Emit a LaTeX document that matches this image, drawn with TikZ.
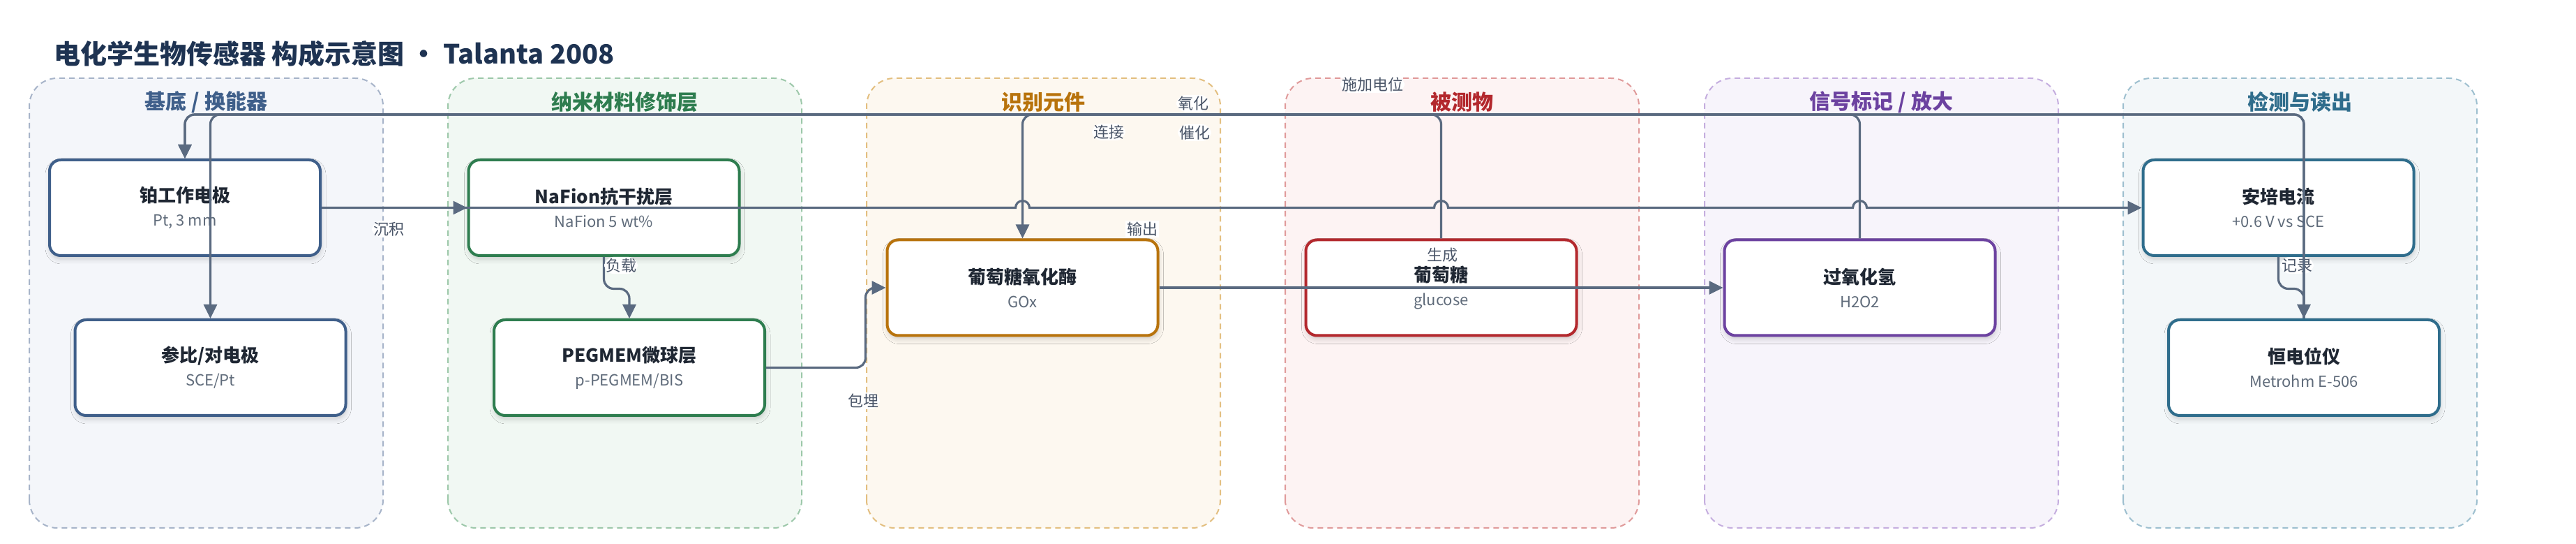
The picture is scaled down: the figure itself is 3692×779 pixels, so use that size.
\documentclass[tikz,border=0pt]{standalone}
\usepackage{fontspec}
\setmainfont{Noto Sans CJK SC}
\usetikzlibrary{arrows.meta,shadows.blur}
\definecolor{inkline}{HTML}{5A6A80}
\definecolor{inklabel}{HTML}{4A5568}
\definecolor{inktitle}{HTML}{1E3352}
\definecolor{inknode}{HTML}{1F2733}
\definecolor{inksub}{HTML}{5F6B7A}
\definecolor{subsC}{HTML}{3F5F8A}
\definecolor{subsF}{HTML}{F4F6FA}
\definecolor{subsB}{HTML}{A7B4C9}
\definecolor{nanoC}{HTML}{2E7D4F}
\definecolor{nanoF}{HTML}{F1F8F3}
\definecolor{nanoB}{HTML}{9DC8AA}
\definecolor{recoC}{HTML}{B8730C}
\definecolor{recoF}{HTML}{FDF8F0}
\definecolor{recoB}{HTML}{E3BF80}
\definecolor{anaC}{HTML}{B3282D}
\definecolor{anaF}{HTML}{FDF3F3}
\definecolor{anaB}{HTML}{E09A9A}
\definecolor{sigC}{HTML}{6C42A0}
\definecolor{sigF}{HTML}{F7F4FB}
\definecolor{sigB}{HTML}{C5AEDF}
\definecolor{detC}{HTML}{2F6D8C}
\definecolor{detF}{HTML}{F3F7F9}
\definecolor{detB}{HTML}{9DBFCF}
\newcommand{\parttext}[2]{{\fontsize{26}{34}\selectfont\bfseries #1}\\{\color{inksub}#2}}
\newcommand{\panelbox}[6]{
  \draw[panel, draw=#4, fill=#3] (#2,23) rectangle ++(507,644);
  \node[paneltitle, text=#5] (#1) at (#2+253.5,633) {#6};
}
\tikzset{
  panel/.style = {line width=2pt, dash pattern=on 8pt off 6pt, rounded corners=40pt},
  paneltitle/.style = {font=\fontsize{30}{36}\selectfont\bfseries, inner sep=2pt},
  part/.style = {rectangle, rounded corners=16pt, draw=#1, line width=4pt, fill=white,
                 minimum width=388pt, minimum height=137pt, inner sep=0pt,
                 align=center, text=inknode, font=\fontsize{22}{34}\selectfont,
                 blur shadow={shadow xshift=1pt, shadow yshift=-5pt,
                              shadow blur radius=7pt, shadow opacity=18}},
  link/.style = {draw=inkline, line width=3.2pt, rounded corners=14pt,
                 -{Triangle[length=20pt, width=19pt]}},
  lbl/.style = {fill=white, text=inklabel, inner sep=2pt,
                font=\fontsize{22}{26}\selectfont}
}

\begin{document}
\begin{tikzpicture}[x=1pt, y=1pt]
  \useasboundingbox (0,0) rectangle (3692,779);
  \fill[white] (0,0) rectangle (3692,779);
  \node[anchor=west, text=inktitle, font=\fontsize{38}{44}\selectfont\bfseries, inner sep=0pt]
    (title) at (77,702) {电化学生物传感器 构成示意图 · Talanta 2008};
  \panelbox{substrate}{42}{subsF}{subsB}{subsC}{基底 / 换能器}
  \panelbox{nano}{642}{nanoF}{nanoB}{nanoC}{纳米材料修饰层}
  \panelbox{recog}{1242}{recoF}{recoB}{recoC}{识别元件}
  \panelbox{analyte}{1842}{anaF}{anaB}{anaC}{被测物}
  \panelbox{signal}{2443}{sigF}{sigB}{sigC}{信号标记 / 放大}
  \panelbox{readout}{3043}{detF}{detB}{detC}{检测与读出}
  \node[part=subsC] (pt) at (265,481.5) {\parttext{铂工作电极}{Pt, 3 mm}};
  \node[part=subsC] (ref) at (301.5,252.5) {\parttext{参比/对电极}{SCE/Pt}};
  \node[part=nanoC] (nafion) at (865.5,481.5) {\parttext{NaFion抗干扰层}{NaFion 5 wt\%}};
  \node[part=nanoC] (pegmem) at (902,252.5) {\parttext{PEGMEM微球层}{p-PEGMEM/BIS}};
  \node[part=recoC] (gox) at (1465.5,367) {\parttext{葡萄糖氧化酶}{GOx}};
  \node[part=anaC] (glucose) at (2065.5,367) {\parttext{葡萄糖}{glucose}};
  \node[part=sigC] (h2o2) at (2665.5,367) {\parttext{过氧化氢}{H2O2}};
  \node[part=detC] (amp) at (3265.5,481.5) {\parttext{安培电流}{+0.6 V vs SCE}};
  \node[part=detC] (pot) at (3302,252.5) {\parttext{恒电位仪}{Metrohm E-506}};
  \coordinate (rail) at (0,615);
  \draw[link] (pt.east) -- (nafion.west) node[lbl] at (557,451) {沉积};
  \draw[link, sharp corners] (pt.east)
    -- ([xshift=-10pt]gox.north |- pt.east) arc[start angle=180, end angle=0, radius=10pt]
    -- ([xshift=-10pt]glucose.north |- pt.east) arc[start angle=180, end angle=0, radius=10pt]
    -- ([xshift=-10pt]h2o2.north |- pt.east) arc[start angle=180, end angle=0, radius=10pt]
    -- (amp.west) node[lbl] at (1637,451) {输出};
  \draw[link] (nafion.south) -- ++(0,-45.5) -| (pegmem.north) node[lbl] at (890,399) {负载};
  \draw[link] (pegmem.east) -| ([xshift=-29pt]gox.west) -- (gox.west) node[lbl] at (1237,205) {包埋};
  \draw[link] (gox.east) -- (h2o2.west) node[lbl] at (2067,414) {生成};
  \draw[link] (amp.south) -- ++(0,-45.5) -| (pot.north) node[lbl] at (3292,399) {记录};
  \draw[link] (glucose.north) -- (glucose.north |- rail) -- (gox.north |- rail) -- (gox.north)
    node[lbl] at (1712,589) {催化};
  \draw[link] (h2o2.north) -- (h2o2.north |- rail) -- (pt.north |- rail) -- (pt.north)
    node[lbl] at (1710,631) {氧化};
  \draw[link] (pot.north) -- (pot.north |- rail) -- (ref.north |- rail) -- (ref.north)
    node[lbl] at (1589,590) {连接};
  \draw[link] (pot.north) -- (pot.north |- rail) -- (pt.north |- rail) -- (pt.north)
    node[lbl] at (1967,658) {施加电位};
\end{tikzpicture}
\end{document}
